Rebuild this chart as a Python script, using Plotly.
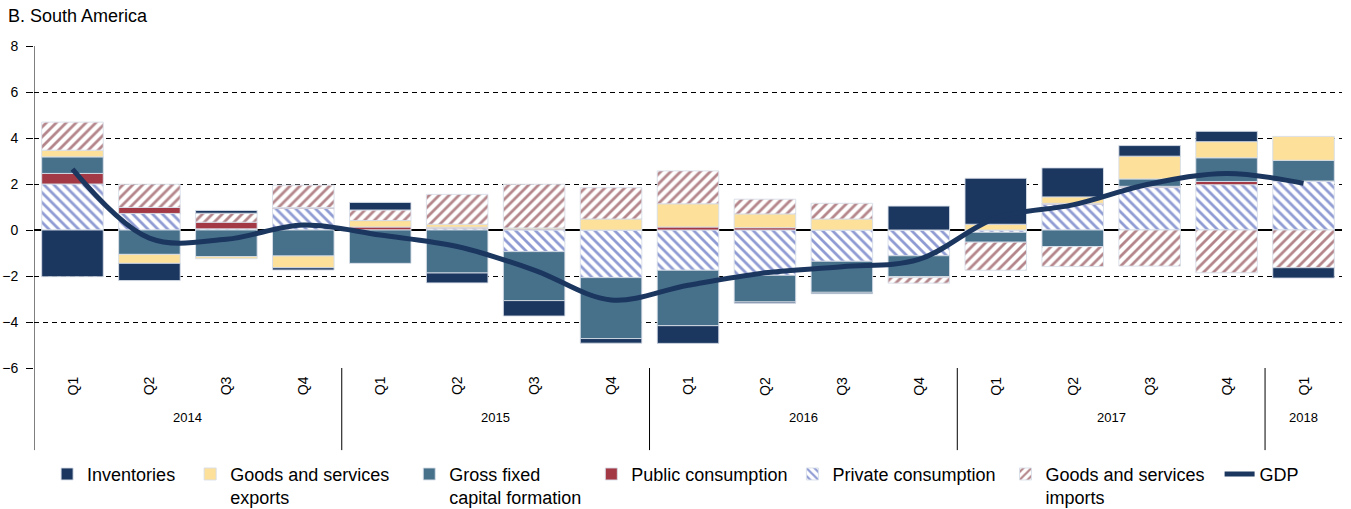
import plotly.graph_objects as go

quarters = ["Q1", "Q2", "Q3", "Q4", "Q1", "Q2", "Q3", "Q4", "Q1", "Q2", "Q3", "Q4",
            "Q1", "Q2", "Q3", "Q4", "Q1"]
years = ["2014"] * 4 + ["2015"] * 4 + ["2016"] * 4 + ["2017"] * 4 + ["2018"]

private = [2.0, 0.72, 0.05, 0.94, 0.0, 0.08, -0.94, -2.07, -1.75, -1.97, -1.36, -1.12,
           -0.1, 1.12, 1.86, 1.97, 2.13]
public = [0.46, 0.26, 0.29, 0.04, 0.13, 0.04, 0.04, 0.0, 0.13, 0.1, 0.0, 0.0,
          0.0, 0.04, 0.04, 0.14, 0.0]
gfcf = [0.72, -1.06, -1.16, -1.13, -1.45, -1.87, -2.13, -2.65, -2.41, -1.16, -1.35, -0.91,
        -0.43, -0.72, 0.32, 1.03, 0.9]
exports = [0.29, -0.39, -0.09, -0.51, 0.28, 0.13, 0.05, 0.48, 1.01, 0.6, 0.48, -0.03,
           0.25, 0.28, 0.99, 0.7, 1.04]
imports = [1.22, 1.01, 0.39, 0.97, 0.46, 1.3, 1.9, 1.36, 1.43, 0.64, 0.68, -0.25,
           -1.22, -0.87, -1.57, -1.86, -1.64]
inventories = [-2.03, -0.75, 0.12, -0.1, 0.33, -0.43, -0.67, -0.2, -0.77, -0.05, -0.06, 1.04,
               2.0, 1.26, 0.46, 0.45, -0.45]
gdp = [2.65, -0.35, -0.4, 0.22, -0.22, -0.72, -1.74, -3.04, -2.4, -1.86, -1.6, -1.28,
       0.52, 1.09, 2.0, 2.46, 2.03]

y_ticks = [-6, -4, -2, 0, 2, 4, 6, 8]

FONT = "Liberation Sans, Arial, sans-serif"
NB = "\u00a0"
x = list(range(len(quarters)))
edge = dict(color="rgba(215,222,232,0.9)", width=1)

W, H = 1351, 509

fig = go.Figure()
# stacking order (from zero outwards) follows trace order
fig.add_trace(go.Bar(x=x, y=private, name="Private consumption" + NB, legendrank=5,
                     marker=dict(color="white", line=edge,
                                 pattern=dict(shape="\\", fgcolor="#1f38a8", bgcolor="white",
                                              size=7, solidity=0.4))))
fig.add_trace(go.Bar(x=x, y=public, name="Public consumption", legendrank=4,
                     marker=dict(color="#a33944", line=edge)))
fig.add_trace(go.Bar(x=x, y=gfcf, name="Gross fixed<br>capital formation" + NB,
                     legendrank=3, marker=dict(color="#47718b", line=edge)))
fig.add_trace(go.Bar(x=x, y=exports, name="Goods and services" + NB * 3 + "<br>exports",
                     legendrank=2, marker=dict(color="#fde09a", line=edge)))
fig.add_trace(go.Bar(x=x, y=imports, name="Goods and services" + NB * 2 + "<br>imports",
                     legendrank=6,
                     marker=dict(color="white", line=edge,
                                 pattern=dict(shape="/", fgcolor="#6a0e17", bgcolor="white",
                                              size=7, solidity=0.4))))
fig.add_trace(go.Bar(x=x, y=inventories, name="Inventories" + NB * 2, legendrank=1,
                     marker=dict(color="#1b365f", line=edge)))
fig.add_trace(go.Scatter(x=x, y=gdp, name="GDP", legendrank=7, mode="lines",
                         line=dict(color="#1b365f", width=5, shape="spline", smoothing=1)))

# quarter labels, year labels and separators
annotations = []
for i, q in enumerate(quarters):
    annotations.append(dict(x=i, y=-0.02, xref="x", yref="paper", text=q, showarrow=False,
                            textangle=-90, yanchor="top", xanchor="center",
                            font=dict(family=FONT, size=14, color="black")))
year_names = []
for yv in years:
    if yv not in year_names:
        year_names.append(yv)
shapes = []
for yv in year_names:
    idx = [i for i, v in enumerate(years) if v == yv]
    annotations.append(dict(x=(idx[0] + idx[-1]) / 2, y=-0.125, xref="x", yref="paper",
                            text=yv, showarrow=False, yanchor="top",
                            font=dict(family=FONT, size=13, color="black")))
    if idx[0] > 0:
        shapes.append(dict(type="line", xref="x", yref="paper", x0=idx[0] - 0.5,
                           x1=idx[0] - 0.5, y0=0, y1=-0.255,
                           line=dict(color="black", width=1)))
shapes.append(dict(type="line", xref="x", yref="paper", x0=-0.5, x1=-0.5, y0=1, y1=-0.255,
                   line=dict(color="black", width=1)))

fig.update_layout(
    width=W, height=H,
    margin=dict(l=34, r=9, t=46, b=141, autoexpand=False),
    paper_bgcolor="white", plot_bgcolor="white",
    barmode="relative", bargap=0.2,
    font=dict(family=FONT, size=13, color="black"),
    title=dict(text="B. South America", x=8 / W, xref="container", xanchor="left",
               y=1 - 16 / H, yref="container", yanchor="middle",
               font=dict(family=FONT, size=18, color="black")),
    xaxis=dict(range=[-0.5, len(quarters) - 0.5], showticklabels=False, showgrid=False,
               zeroline=False, showline=False, ticks="", automargin=False),
    yaxis=dict(range=[-6, 8], tickvals=y_ticks, showgrid=True, gridcolor="black",
               griddash="5px,4px", gridwidth=1, zeroline=True, zerolinecolor="black",
               zerolinewidth=1.5, showline=False, ticks="outside", ticklen=7,
               tickcolor="black", ticklabelstandoff=5, automargin=False,
               tickfont=dict(family=FONT, size=14, color="black")),
    legend=dict(orientation="h", x=0.010, xanchor="left", y=-0.2726, yanchor="top",
                font=dict(family=FONT, size=18, color="black"), valign="top",
                traceorder="normal", itemwidth=30, tracegroupgap=0),
    annotations=annotations,
    shapes=shapes,
)

fig.write_html("out.html", config={"displayModeBar": False},
               post_script="document.body.style.margin='0px';document.body.style.padding='0px';")
